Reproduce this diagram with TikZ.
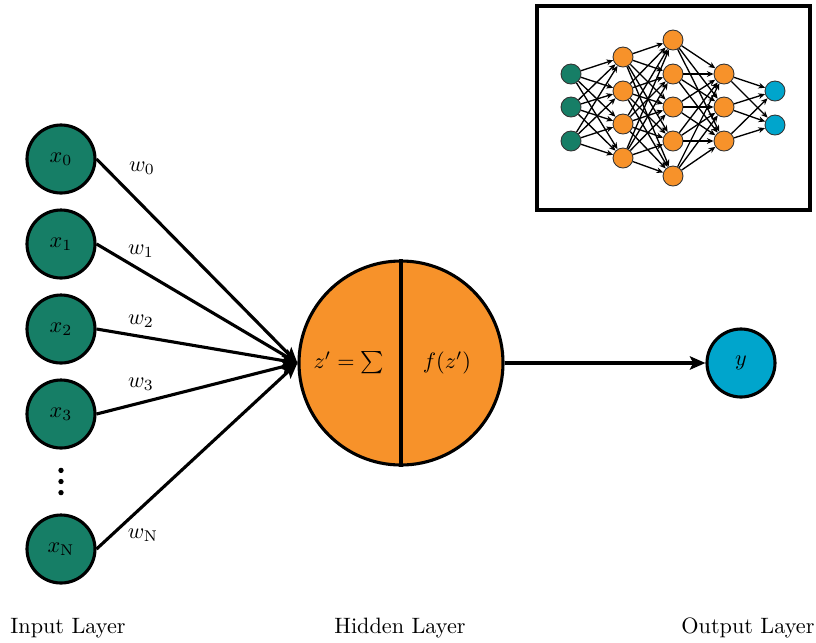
\documentclass[tikz,border=0pt]{standalone}
\usepackage{amsmath,amssymb}
\usetikzlibrary{positioning,calc,arrows.meta}

\definecolor{ingreen}{HTML}{167E66}
\definecolor{hidorange}{HTML}{F7922A}
\definecolor{outblue}{HTML}{00A5CC}

\tikzset{
  unit/.style={circle, draw, line width=1.4pt, minimum size=30.6pt, inner sep=0pt},
  input/.style={unit, fill=ingreen},
  output/.style={unit, fill=outblue},
  neuron/.style={circle, draw, line width=1.4pt, minimum size=91.8pt, inner sep=0pt, fill=hidorange},
  wire/.style={line width=1.4pt, -{Stealth[length=7pt,width=6pt,inset=1.5pt]}},
  dot/.style={circle, fill, inner sep=0pt, minimum size=2.4pt},
  mini/.style={circle, draw=black!80, line width=0.4pt, minimum size=9pt, inner sep=0pt},
  miniwire/.style={line width=0.6pt, -{Stealth[length=3pt,width=2.6pt]}},
}

\begin{document}
\begin{tikzpicture}[x=0.45pt, y=-0.45pt]
		\useasboundingbox (0,0) rectangle (816,643);
		
		% Define nodes
		\node[input]                    (x0) at (61,159) {$x_0$};
		\node[input, below=6.25pt of x0] (x1) {$x_1$};
		\node[input, below=6.25pt of x1] (x2) {$x_2$};
		\node[input, below=6.25pt of x2] (x3) {$x_3$};
		\node[input, below=28.75pt of x3] (xN) {$x_{\mathrm{N}}$};
		\node[dot] (dot2) at ($(x3)!0.5!(xN)$) {};
		\node[dot, above=2.2pt of dot2] (dot1) {};
		\node[dot, below=2.2pt of dot2] (dot3) {};
		\node[neuron]                   (h) at (401,363) {};
		\node[output, right=90.4pt of h] (y) {$y$};
		
		% Inside the neuron
		\draw[line width=1.4pt] (h.north) -- (h.south);
		\node (sum) at ($(h)+(-52,0)$) {$z' = \sum$};
		\node (act) at ($(h)+(46,0)$) {$f(z')$};
		
		% Weights
		\node (w0) at (142,168) {$w_0$};
		\node (w1) at (141,251) {$w_1$};
		\node (w2) at (141,321) {$w_2$};
		\node (w3) at (141,384) {$w_3$};
		\node (wN) at (143,535) {$w_{\mathrm{N}}$};
		
		% Connect the nodes
		\foreach \src in {x0,x1,x2,x3,xN}
			\draw[wire] (\src.east) -- (h.west);
		\draw[wire] (h) -- (y);
		
		% Layer names
		\node (lin)  at (68,628)  {Input Layer};
		\node (lhid) at (400,628) {Hidden Layer};
		\node (lout) at (748,628) {Output Layer};
		
		% Small network in the corner
		\draw[line width=1.4pt] (537,6) rectangle (810,210);
		\foreach \yy [count=\i] in {74,107,141}
			\node[mini, fill=ingreen] (a\i) at (571,\yy) {};
		\foreach \yy [count=\i] in {57,91,124,158}
			\node[mini, fill=hidorange] (b\i) at (623,\yy) {};
		\foreach \yy [count=\i] in {40,74,107,141,176}
			\node[mini, fill=hidorange] (c\i) at (673,\yy) {};
		\foreach \yy [count=\i] in {74,107,141}
			\node[mini, fill=hidorange] (d\i) at (724,\yy) {};
		\foreach \yy [count=\i] in {91,125}
			\node[mini, fill=outblue] (e\i) at (775,\yy) {};
		
		\foreach \i in {1,...,3} \foreach \j in {1,...,4}
			\draw[miniwire] (a\i) -- (b\j);
		\foreach \i in {1,...,4} \foreach \j in {1,...,5}
			\draw[miniwire] (b\i) -- (c\j);
		\foreach \i in {1,...,5} \foreach \j in {1,...,3}
			\draw[miniwire] (c\i) -- (d\j);
		\foreach \i in {1,...,3} \foreach \j in {1,...,2}
			\draw[miniwire] (d\i) -- (e\j);
		
\end{tikzpicture}
\end{document}
